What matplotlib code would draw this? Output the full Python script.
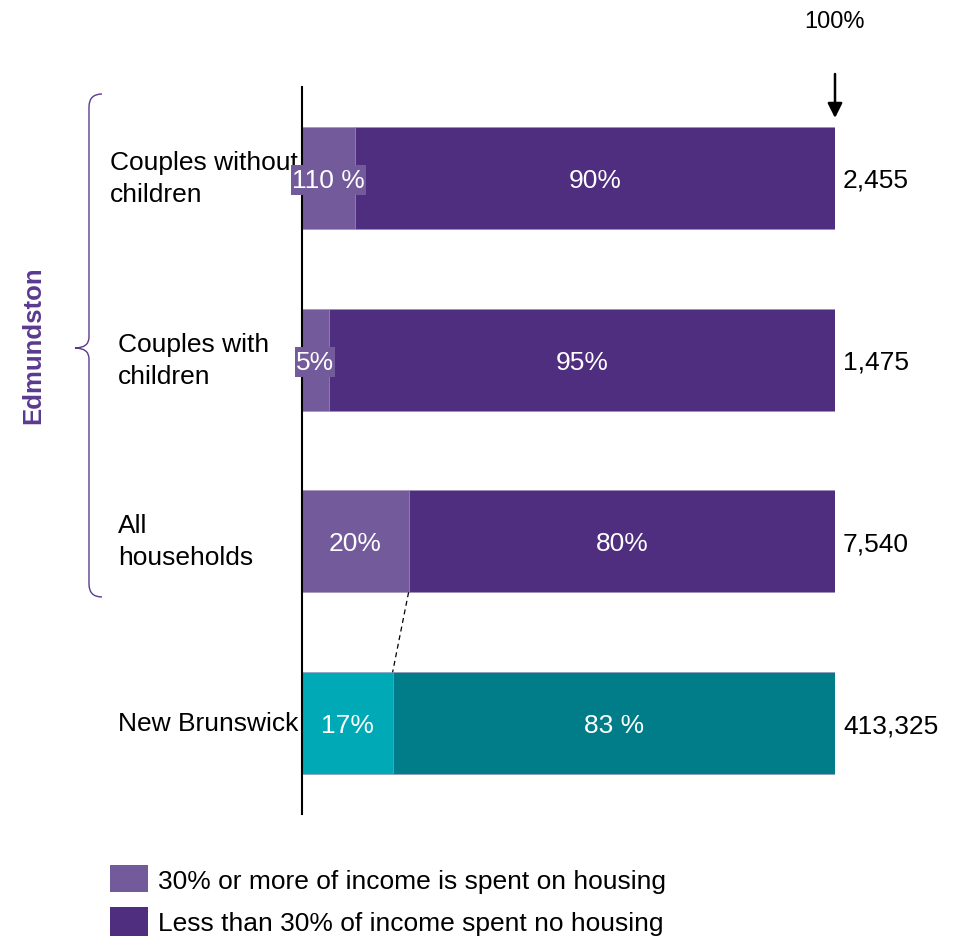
import matplotlib
matplotlib.use("Agg")
import matplotlib.pyplot as plt
from matplotlib.path import Path
from matplotlib.patches import PathPatch, Rectangle

plt.rcParams['font.family'] = ['Liberation Sans', 'DejaVu Sans']

# Data
categories = ["Couples without\nchildren", "Couples with\nchildren", "All\nhouseholds", "New Brunswick"]
share_30_plus = [10, 5, 20, 17]
share_under_30 = [90, 95, 80, 83]
labels_30_plus = ["110 %", "5%", "20%", "17%"]
labels_under_30 = ["90%", "95%", "80%", "83 %"]
household_counts = ["2,455", "1,475", "7,540", "413,325"]
legend_labels = ["30% or more of income is spent on housing",
                 "Less than 30% of income spent no housing"]
group_label = "Edmundston"

W, H = 960, 937
fig = plt.figure(figsize=(W / 100, H / 100), dpi=100)
ax = fig.add_axes([302 / W, 1 - 815 / H, (835 - 302) / W, (815 - 88) / H])

light_purple = "#735A9B"
dark_purple = "#4F2D7F"
light_teal = "#00A9B6"
dark_teal = "#007D88"
light_cols = [light_purple, light_purple, light_purple, light_teal]
dark_cols = [dark_purple, dark_purple, dark_purple, dark_teal]

y = list(range(len(categories)))
bar_h = 0.56
ax.barh(y, share_30_plus, height=bar_h, color=light_cols, edgecolor="#9d8bb8", linewidth=0.4)
ax.barh(y, share_under_30, left=share_30_plus, height=bar_h, color=dark_cols,
        edgecolor="#9d8bb8", linewidth=0.4)

ax.set_xlim(0, 100)
ax.set_ylim(3.5, -0.5)
for s in ["top", "right", "bottom"]:
    ax.spines[s].set_visible(False)
ax.spines["left"].set_linewidth(1.5)
ax.spines["left"].set_color("black")
ax.set_xticks([])
ax.set_yticks([])
ax.set_zorder(2)
ax.patch.set_alpha(0)

fs = 19
px = 1 / 181.7  # one pixel in y data units
boxed = []
for i in y:
    a, b = share_30_plus[i], share_under_30[i]
    yc = i + 2 * px
    t = ax.text(a / 2, yc, labels_30_plus[i], ha="center", va="center", color="white",
                fontsize=fs, clip_on=False, zorder=6)
    if a < 12:
        boxed.append((t, light_cols[i]))
    ax.text(a + b / 2, yc, labels_under_30[i], ha="center", va="center", color="white", fontsize=fs)
    ax.text(101.5, yc, household_counts[i], ha="left", va="center", color="black",
            fontsize=fs, clip_on=False)

# Background boxes behind the labels of narrow segments
fig.canvas.draw()
renderer = fig.canvas.get_renderer()
inv = fig.transFigure.inverted()
for t, col in boxed:
    bb = t.get_window_extent(renderer)
    (x0, y0), (x1, y1) = inv.transform([(bb.x0 - 1, bb.y0 - 3), (bb.x1 + 1, bb.y1 + 3)])
    ax.add_patch(Rectangle((x0, y0), x1 - x0, y1 - y0, transform=fig.transFigure,
                           fc=col, ec="none", zorder=5, clip_on=False))

# Category labels
cat_x = [110, 118, 118, 118]
for i, c in enumerate(categories):
    yy = ax.transData.transform((0, i))[1] / H
    fig.text(cat_x[i] / W, yy, c, ha="left", va="center", fontsize=fs,
             linespacing=1.42, multialignment="left", zorder=1)

# Dashed connector between the Edmundston total and New Brunswick
ax.plot([share_30_plus[2], share_30_plus[3]], [2 + bar_h / 2, 3 - bar_h / 2],
        ls=(0, (4, 3)), color="black", lw=0.9)

# 100% marker arrow
ax.annotate("", xy=(100, -0.5 + 31 * px), xytext=(100, -0.5 - 13 * px),
            xycoords="data", textcoords="data",
            arrowprops=dict(arrowstyle="-|>", color="black", lw=1.8, mutation_scale=22,
                            shrinkA=0, shrinkB=0),
            annotation_clip=False)
ax.text(100, -0.5 - 66 * px, "100%", ha="center", va="center",
        fontsize=17, clip_on=False)

# Brace around the Edmundston group (pixel coordinates converted to figure fraction)
def fp(x, yy):
    return (x / W, 1 - yy / H)

verts = [fp(102, 95), fp(89, 95), fp(89, 108),
         fp(89, 338),
         fp(89, 349), fp(75, 349),
         fp(89, 349), fp(89, 360),
         fp(89, 585),
         fp(89, 598), fp(102, 598)]
codes = [Path.MOVETO, Path.CURVE3, Path.CURVE3,
         Path.LINETO,
         Path.CURVE3, Path.CURVE3,
         Path.CURVE3, Path.CURVE3,
         Path.LINETO,
         Path.CURVE3, Path.CURVE3]
fig.add_artist(PathPatch(Path(verts, codes), fc="none", ec="#5B3A8E", lw=1.0,
                         transform=fig.transFigure))
fig.text(33 / W, 1 - 345 / H, group_label, rotation=90, ha="center", va="center",
         fontsize=18.5, fontweight="bold", color="#5B3A8E")

# Legend
leg_rows = [(866, 893, 882, light_purple), (908, 937, 924, dark_purple)]
for (top, bot, mid, col), lab in zip(leg_rows, legend_labels):
    fig.add_artist(Rectangle((110 / W, 1 - bot / H), 38 / W, (bot - top) / H,
                             transform=fig.transFigure, fc=col, ec="none"))
    fig.text(158 / W, 1 - mid / H, lab, ha="left", va="center", fontsize=fs)

fig.savefig("out.png", dpi=100)
